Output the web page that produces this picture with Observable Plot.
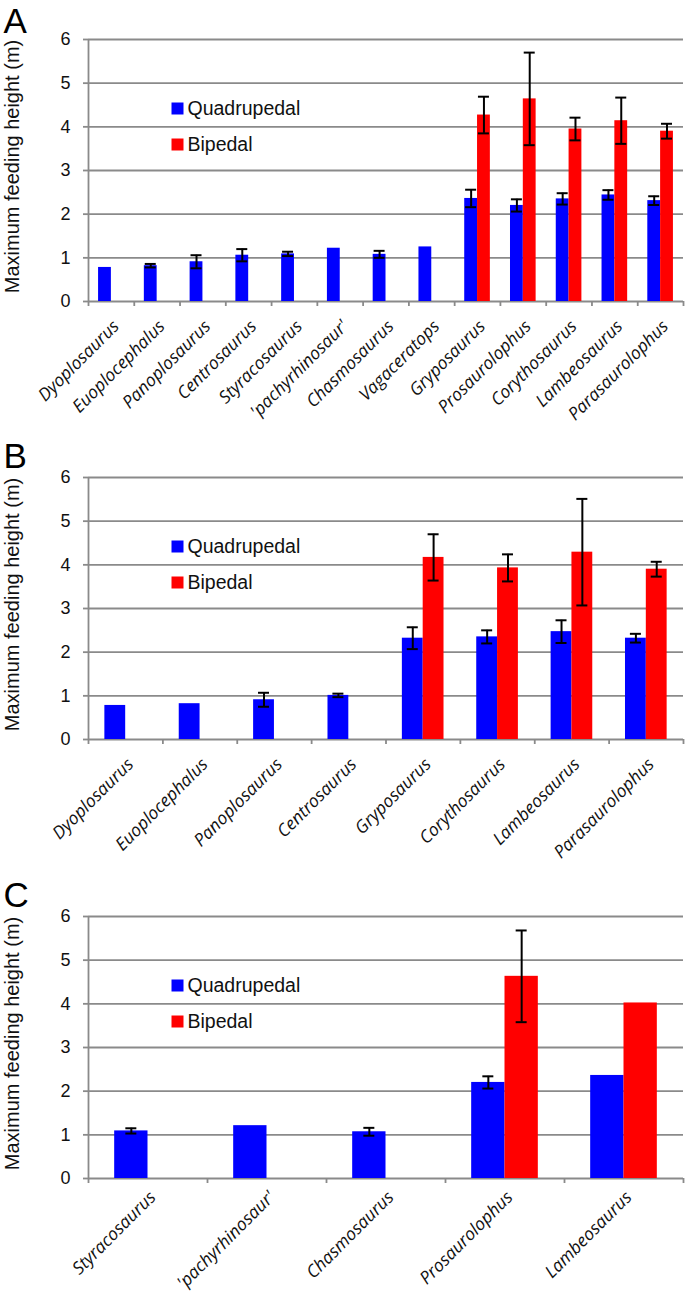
<!DOCTYPE html>
<html>
<head>
<meta charset="utf-8">
<script src="https://cdn.jsdelivr.net/npm/d3@7"></script>
<script src="https://cdn.jsdelivr.net/npm/@observablehq/plot@0.6"></script>
<style>
  html, body { margin: 0; padding: 0; background: #fff; }
  #chart svg { display: block; }
</style>
</head>
<body>
<div id="chart"></div>
<script>
// ---- Data ----
const series = ["Quadrupedal", "Bipedal"];
const seriesColors = ["#0000ff", "#ff0000"];
const yTicks = [0, 1, 2, 3, 4, 5, 6];

// Panel A
const catsA = ["Dyoplosaurus", "Euoplocephalus", "Panoplosaurus", "Centrosaurus", "Styracosaurus", "'pachyrhinosaur'", "Chasmosaurus", "Vagaceratops", "Gryposaurus", "Prosaurolophus", "Corythosaurus", "Lambeosaurus", "Parasaurolophus"];
const quadA    = [0.78, 0.82, 0.91, 1.06, 1.09, 1.22, 1.08, 1.25, 2.36, 2.20, 2.35, 2.44, 2.31];
const quadErrA = [null, 0.04, 0.15, 0.14, 0.05, null, 0.08, null, 0.20, 0.14, 0.13, 0.11, 0.10];
const bipA     = [null, null, null, null, null, null, null, null, 4.27, 4.64, 3.95, 4.14, 3.90];
const bipErrA  = [null, null, null, null, null, null, null, null, 0.42, 1.06, 0.26, 0.53, 0.17];

// Panel B
const catsB = ["Dyoplosaurus", "Euoplocephalus", "Panoplosaurus", "Centrosaurus", "Gryposaurus", "Corythosaurus", "Lambeosaurus", "Parasaurolophus"];
const quadB    = [0.78, 0.82, 0.91, 1.01, 2.32, 2.35, 2.47, 2.32];
const quadErrB = [null, null, 0.16, 0.04, 0.25, 0.15, 0.26, 0.10];
const bipB     = [null, null, null, null, 4.17, 3.93, 4.29, 3.90];
const bipErrB  = [null, null, null, null, 0.53, 0.31, 1.22, 0.17];

// Panel C
const catsC = ["Styracosaurus", "'pachyrhinosaur'", "Chasmosaurus", "Prosaurolophus", "Lambeosaurus"];
const quadC    = [1.09, 1.21, 1.07, 2.20, 2.36];
const quadErrC = [0.06, null, 0.09, 0.14, null];
const bipC     = [null, null, null, 4.63, 4.02];
const bipErrC  = [null, null, null, 1.05, null];

const yTitle = "Maximum feeding height (m)";

// ---- Drawing ----
const GRAY = "#8a8a8a";
const BW = 0.28; // bar width as fraction of category slot

function panel({cats, quad, quadErr, bip, bipErr, letter, height, marginTop, marginBottom, letterDy, labelDy}) {
  const n = cats.length;
  const rows = [];
  cats.forEach((c, i) => {
    if (quad[i] != null) rows.push({i, s: series[0], v: quad[i], e: quadErr[i], x1: i - BW, x2: i, xc: i - BW / 2});
    if (bip[i] != null) rows.push({i, s: series[1], v: bip[i], e: bipErr[i], x1: i, x2: i + BW, xc: i + BW / 2});
  });
  const errs = rows.filter(r => r.e != null);
  const cap = 5.5 * n / 595; // half cap width in slot units (≈5.5px)
  const legendMarks = series.flatMap((s, k) => [
    Plot.dot([s], {frameAnchor: "top-left", dx: 89, dy: 69 + k * 36, symbol: "square", r: 6.77, fill: seriesColors[k]}),
    Plot.text([s], {frameAnchor: "top-left", dx: 99, dy: 69 + k * 36, textAnchor: "start", lineAnchor: "middle", fontSize: 19.5, fill: "#111"})
  ]);
  return Plot.plot({
    width: 685,
    height,
    marginTop,
    marginBottom,
    marginLeft: 88,
    marginRight: 2,
    style: {fontFamily: "'Liberation Sans', Arial, sans-serif", background: "#fff", overflow: "visible"},
    x: {domain: [-0.5, n - 0.5], axis: null},
    y: {domain: [0, 6], axis: null},
    color: {domain: series, range: seriesColors},
    marks: [
      Plot.gridY(yTicks, {stroke: GRAY, strokeOpacity: 1, strokeWidth: 1.8}),
      Plot.axisY(yTicks, {tickSize: 5, tickPadding: 13, fontSize: 18, stroke: GRAY, strokeOpacity: 1, strokeWidth: 1.8, label: null, fill: "#111"}),
      Plot.ruleX([-0.5], {stroke: GRAY, strokeWidth: 1.8}),
      Plot.axisX(d3.range(n + 1).map(i => i - 0.5), {tickSize: 5, tickFormat: () => "", stroke: GRAY, strokeOpacity: 1, strokeWidth: 1.8, label: null}),
      Plot.rect(rows, {x1: "x1", x2: "x2", y1: () => 0, y2: "v", fill: "s"}),
      Plot.ruleX(errs, {x: "xc", y1: d => d.v - d.e, y2: d => d.v + d.e, stroke: "#000", strokeWidth: 2}),
      Plot.ruleY(errs, {y: d => d.v + d.e, x1: d => d.xc - cap, x2: d => d.xc + cap, stroke: "#000", strokeWidth: 2}),
      Plot.ruleY(errs, {y: d => d.v - d.e, x1: d => d.xc - cap, x2: d => d.xc + cap, stroke: "#000", strokeWidth: 2}),
      Plot.text(cats, {x: (d, i) => i, y: () => 0, text: d => d, rotate: -45, textAnchor: "end", lineAnchor: "top", dx: 0, dy: labelDy, fontSize: 17.5, fontStyle: "italic", fontFamily: "'Open Sans', sans-serif", fill: "#111"}),
      ...legendMarks,
      Plot.text([yTitle], {frameAnchor: "left", rotate: -90, dx: -75.5, dy: -4, fontSize: 20, textAnchor: "middle", lineAnchor: "middle", fill: "#111"}),
      Plot.text([letter], {frameAnchor: "top-left", dx: -85, dy: letterDy, textAnchor: "start", lineAnchor: "top", fontSize: 35, fill: "#000"})
    ]
  });
}

const chart = document.getElementById("chart");
chart.append(panel({cats: catsA, quad: quadA, quadErr: quadErrA, bip: bipA, bipErr: bipErrA, letter: "A", height: 440, marginTop: 39, marginBottom: 139, letterDy: -31, labelDy: 17}));
chart.append(panel({cats: catsB, quad: quadB, quadErr: quadErrB, bip: bipB, bipErr: bipErrB, letter: "B", height: 440, marginTop: 37, marginBottom: 141, letterDy: -34, labelDy: 17}));
chart.append(panel({cats: catsC, quad: quadC, quadErr: quadErrC, bip: bipC, bipErr: bipErrC, letter: "C", height: 415, marginTop: 36, marginBottom: 117, letterDy: -34, labelDy: 11}));
</script>
</body>
</html>
